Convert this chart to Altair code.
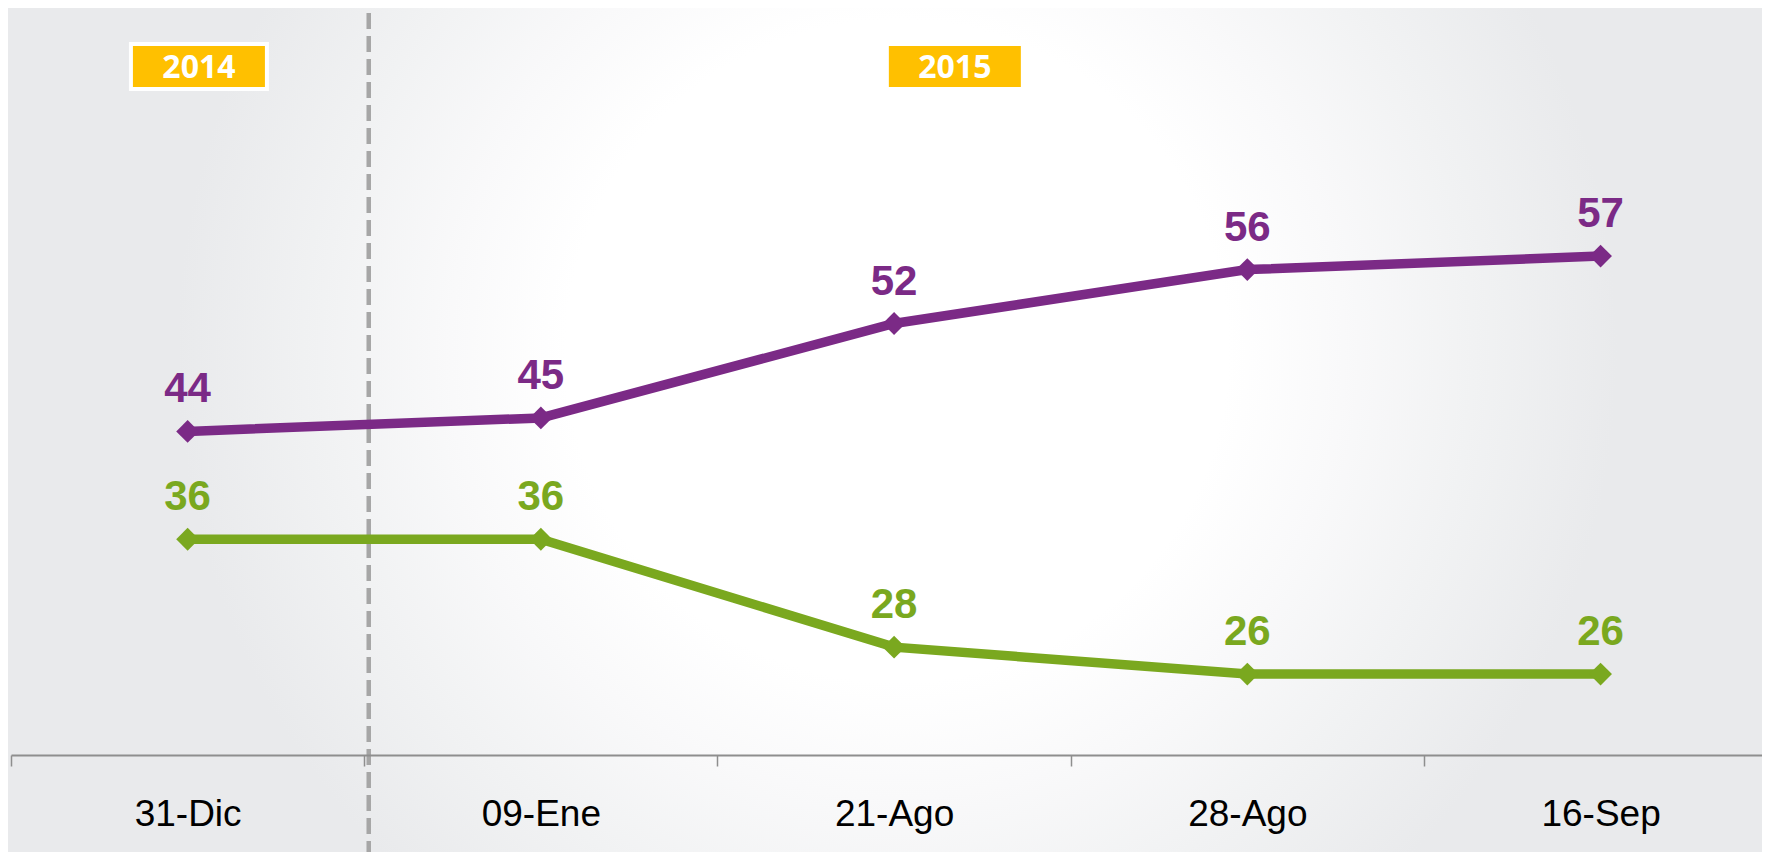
import altair as alt
import pandas as pd

# ---------------- data ----------------
categories = ["31-Dic", "09-Ene", "21-Ago", "28-Ago", "16-Sep"]
serie_morada = [44, 45, 52, 56, 57]
serie_verde = [36, 36, 28, 26, 26]
series_names = ["morada", "verde"]
years = ["2014", "2015"]

PURPLE = "#7b2a86"
GREEN = "#7aa81f"
YELLOW = "#ffc000"
BG = "#e9eaec"

W, H = 1751, 747
PAD_L, PAD_B = 3, 97

df = pd.DataFrame({
    "idx": list(range(len(categories))) * 2,
    "cat": categories * 2,
    "serie": [series_names[0]] * len(categories) + [series_names[1]] * len(categories),
    "valor": serie_morada + serie_verde,
})

xscale = alt.Scale(domain=[-0.5, 4.457], nice=False, zero=False)
yscale = alt.Scale(domain=[20, 75.4], nice=False, zero=False)
color = alt.Color("serie:N", scale=alt.Scale(domain=series_names, range=[PURPLE, GREEN]), legend=None)

label_expr = "[" + ",".join(f"'{c}'" for c in categories) + "][round(datum.value + 0.5)]"
step = W / (4.457 + 0.5)

x_axis = alt.Axis(
    values=[i - 0.5 for i in range(len(categories))],
    labelExpr=label_expr,
    labelOffset=step / 2,
    tickSize=11, tickColor="#8e8e8e", tickWidth=1.5,
    domainColor="#8e8e8e", domainWidth=2.2,
    labelFont="Liberation Sans", labelFontSize=37, labelColor="#000000",
    labelPadding=59, labelBaseline="alphabetic",
    labelFlush=False, labelOverlap=False, labelBound=False,
    grid=False, title=None, zindex=1,
)

one = pd.DataFrame({"a": [0]})

# radial glow background
bg = alt.Chart(one).mark_rect(
    fill=alt.Gradient(
        gradient="radial",
        stops=[
            alt.GradientStop(color="#ffffff", offset=0),
            alt.GradientStop(color="#ffffff", offset=0.46),
            alt.GradientStop(color="#f9f9fa", offset=0.62),
            alt.GradientStop(color="#f1f2f3", offset=0.8),
            alt.GradientStop(color=BG, offset=1),
        ],
        x1=0.5, y1=0.5, r1=0, x2=0.5, y2=0.5, r2=0.5,
    )
).encode(x=alt.value(166), x2=alt.value(1606), y=alt.value(-377), y2=alt.value(1063))

divider = alt.Chart(one).mark_rule(
    color="#a6a6a6", strokeWidth=4.5, strokeDash=[16, 7], xOffset=4.5
).encode(
    x=alt.XDatum(0.5, type="quantitative", scale=xscale, axis=x_axis),
    y=alt.value(5), y2=alt.value(H + PAD_B + 20),
)

base = alt.Chart(df).encode(
    x=alt.X("idx:Q", scale=xscale, axis=x_axis),
    y=alt.Y("valor:Q", scale=yscale, axis=None),
    color=color,
)

lines = base.mark_line(strokeWidth=9.5)
points = base.mark_point(shape="diamond", filled=True, size=520, opacity=1)
labels = base.mark_text(
    font="Liberation Sans", fontSize=42, fontWeight="bold",
    dy=-29, baseline="alphabetic", align="center",
).encode(text=alt.Text("valor:Q"))


def year_tag(label, xpos, border):
    enc = dict(
        x=alt.XDatum(xpos, type="quantitative", scale=xscale, axis=x_axis),
        y=alt.YDatum(71.06, type="quantitative", scale=yscale, axis=None),
    )
    parts = []
    if border:
        parts.append(alt.Chart(one).mark_rect(color="#ffffff", width=140, height=49).encode(**enc))
    parts.append(alt.Chart(one).mark_rect(color=YELLOW, width=132, height=41).encode(**enc))
    parts.append(alt.Chart(one).mark_text(
        text=label, font="Open Sans", fontSize=32, fontWeight="bold", color="#ffffff",
        align="center", baseline="alphabetic", dy=11,
    ).encode(**enc))
    return parts


tags = year_tag(years[0], 0.032, True) + year_tag(years[1], 2.172, False)

chart = alt.layer(bg, divider, lines, points, labels, *tags).properties(
    width=W, height=H,
    autosize=alt.AutoSizeParams(type="none"),
    padding={"left": PAD_L, "top": 0, "right": 0, "bottom": PAD_B},
    background=BG,
).configure_view(strokeWidth=0)

chart.save("out.html", embed_options={"renderer": "svg", "actions": False})
